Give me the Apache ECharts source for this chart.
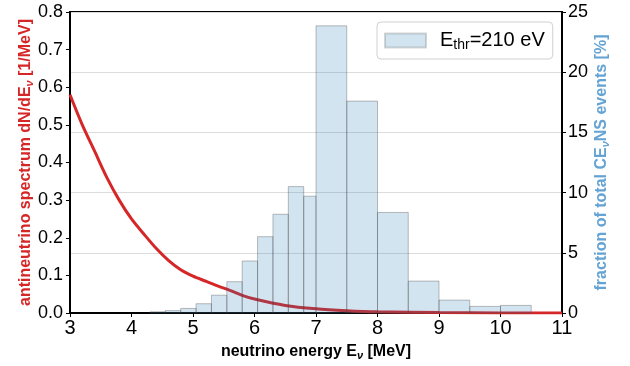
<!DOCTYPE html>
<html>
<head>
<meta charset="utf-8">
<script src="https://cdn.jsdelivr.net/npm/echarts@6/dist/echarts.min.js"></script>
<style>
  html, body { margin: 0; padding: 0; background: #fff; }
  #chart { width: 630px; height: 366px; }
</style>
</head>
<body>
<div id="chart"></div>
<script>
// antineutrino spectrum (left axis)
const energy = [3.0, 3.2, 3.4, 3.6, 3.8, 4.0, 4.2, 4.4, 4.6, 4.8, 5.0, 5.2, 5.4, 5.6, 5.8, 6.0, 6.5, 7.0, 7.5, 8.0, 9.0, 10.0, 11.0]
const spectrum = [0.58, 0.50, 0.43, 0.36, 0.30, 0.25, 0.21, 0.172, 0.14, 0.115, 0.098, 0.085, 0.072, 0.06, 0.047, 0.037, 0.02, 0.011, 0.006, 0.003, 0.001, 0.0003, 0.0001]

// CEvNS fraction histogram (right axis)
const binEdges = [4.3, 4.55, 4.8, 5.05, 5.3, 5.55, 5.8, 6.05, 6.3, 6.55, 6.8, 7.0, 7.5, 8.0, 8.5, 9.0, 9.5, 10.0, 10.5]
const fraction = [0.1, 0.2, 0.38, 0.77, 1.48, 2.6, 4.32, 6.34, 8.2, 10.5, 9.7, 23.85, 17.6, 8.35, 2.65, 1.07, 0.55, 0.63]

const FONT = 'Liberation Sans'
const RED = '#d62728'
const BLUE_LABEL = '#64a3d3'

const chart = echarts.init(document.getElementById('chart'))

const lineData = energy.map((e, i) => [e, spectrum[i]])
const barData = fraction.map((f, i) => [binEdges[i], binEdges[i + 1], f])

const option = {
  animation: false,
  textStyle: { fontFamily: FONT },
  grid: { left: 70, right: 68, top: 12, bottom: 49, show: true, borderColor: '#000', borderWidth: 2, backgroundColor: 'transparent' },
  legend: {
    show: true,
    data: ['thr'],
    icon: 'rect',
    left: 377,
    top: 22,
    itemWidth: 41,
    itemHeight: 14,
    padding: [7, 8, 7, 7],
    itemGap: 5,
    backgroundColor: '#fff',
    borderColor: '#d0d0d0',
    borderWidth: 1,
    borderRadius: 4,
    formatter: () => '{a|E}{sub|thr}{a|=210 eV}',
    textStyle: {
      fontFamily: FONT,
      padding: [0, 0, 0, 9],
      rich: {
        a: { fontSize: 20, color: '#000', fontFamily: FONT, lineHeight: 22 },
        sub: { fontSize: 14, color: '#000', fontFamily: FONT, lineHeight: 22, padding: [9, 0, 0, 0] }
      }
    }
  },
  xAxis: {
    type: 'value',
    min: 3,
    max: 11,
    interval: 1,
    name: 'neutrino energy E{nu|ν} [MeV]',
    nameLocation: 'middle',
    nameGap: 30,
    nameTextStyle: {
      fontFamily: FONT,
      fontWeight: 'bold',
      fontSize: 16,
      color: '#000',
      rich: {
        nu: { fontSize: 11, fontStyle: 'italic', fontWeight: 'bold', fontFamily: FONT, padding: [7, 0, 0, 0] }
      }
    },
    axisLine: { show: true, lineStyle: { color: '#000', width: 2 } },
    axisTick: { show: true, length: 4, lineStyle: { color: '#000', width: 1 } },
    axisLabel: { fontSize: 20, color: '#000', margin: 5, fontFamily: FONT },
    splitLine: { show: false }
  },
  yAxis: [
    {
      type: 'value',
      min: 0,
      max: 0.8,
      interval: 0.1,
      name: 'antineutrino spectrum dN/dE{nu|ν} [1/MeV]',
      nameLocation: 'middle',
      nameRotate: 90,
      nameGap: 35,
      nameMoveOverlap: false,
      nameTextStyle: {
        fontFamily: FONT,
        fontWeight: 'bold',
        fontSize: 16,
        color: RED,
        rich: {
          nu: { fontSize: 11, fontStyle: 'italic', fontWeight: 'bold', color: RED, fontFamily: FONT, padding: [7, 0, 0, 0] }
        }
      },
      axisLine: { show: true, lineStyle: { color: '#000', width: 2 } },
      axisTick: { show: true, length: 4, lineStyle: { color: '#000', width: 1 } },
      axisLabel: { fontSize: 18, color: '#000', margin: 7, fontFamily: FONT, formatter: v => v.toFixed(1) },
      splitLine: { show: false }
    },
    {
      type: 'value',
      min: 0,
      max: 25,
      interval: 5,
      position: 'right',
      name: 'fraction of total CE{nu|ν}NS events [%]',
      nameLocation: 'middle',
      nameRotate: 90,
      nameGap: 31,
      nameMoveOverlap: false,
      nameTextStyle: {
        fontFamily: FONT,
        fontWeight: 'bold',
        fontSize: 16,
        color: BLUE_LABEL,
        rich: {
          nu: { fontSize: 11, fontStyle: 'italic', fontWeight: 'bold', color: BLUE_LABEL, fontFamily: FONT, padding: [7, 0, 0, 0] }
        }
      },
      axisLine: { show: true, lineStyle: { color: '#000', width: 2 } },
      axisTick: { show: true, length: 4, lineStyle: { color: '#000', width: 1 } },
      axisLabel: { fontSize: 18, color: '#000', margin: 6, fontFamily: FONT },
      splitLine: { show: true, lineStyle: { color: '#dcdcdc', width: 1 } }
    }
  ],
  series: [
    {
      type: 'line',
      yAxisIndex: 0,
      data: lineData,
      smooth: 0.3,
      showSymbol: false,
      z: 1,
      lineStyle: { color: RED, width: 3 }
    },
    {
      type: 'custom',
      name: 'thr',
      yAxisIndex: 1,
      z: 3,
      data: barData,
      itemStyle: { color: 'rgba(31,119,180,0.2)', borderColor: 'rgba(120,120,120,0.3)', borderWidth: 1 },
      encode: { x: [0, 1], y: 2 },
      renderItem: (params, api) => {
        const p0 = api.coord([api.value(0), api.value(2)])
        const p1 = api.coord([api.value(1), 0])
        return {
          type: 'rect',
          shape: { x: p0[0], y: p0[1], width: p1[0] - p0[0], height: p1[1] - p0[1] },
          style: { fill: 'rgba(31,119,180,0.2)', stroke: 'rgba(70,70,70,0.35)', lineWidth: 1 }
        }
      }
    }
  ]
}

chart.setOption(option)
window.addEventListener('resize', () => chart.resize())
</script>
</body>
</html>
